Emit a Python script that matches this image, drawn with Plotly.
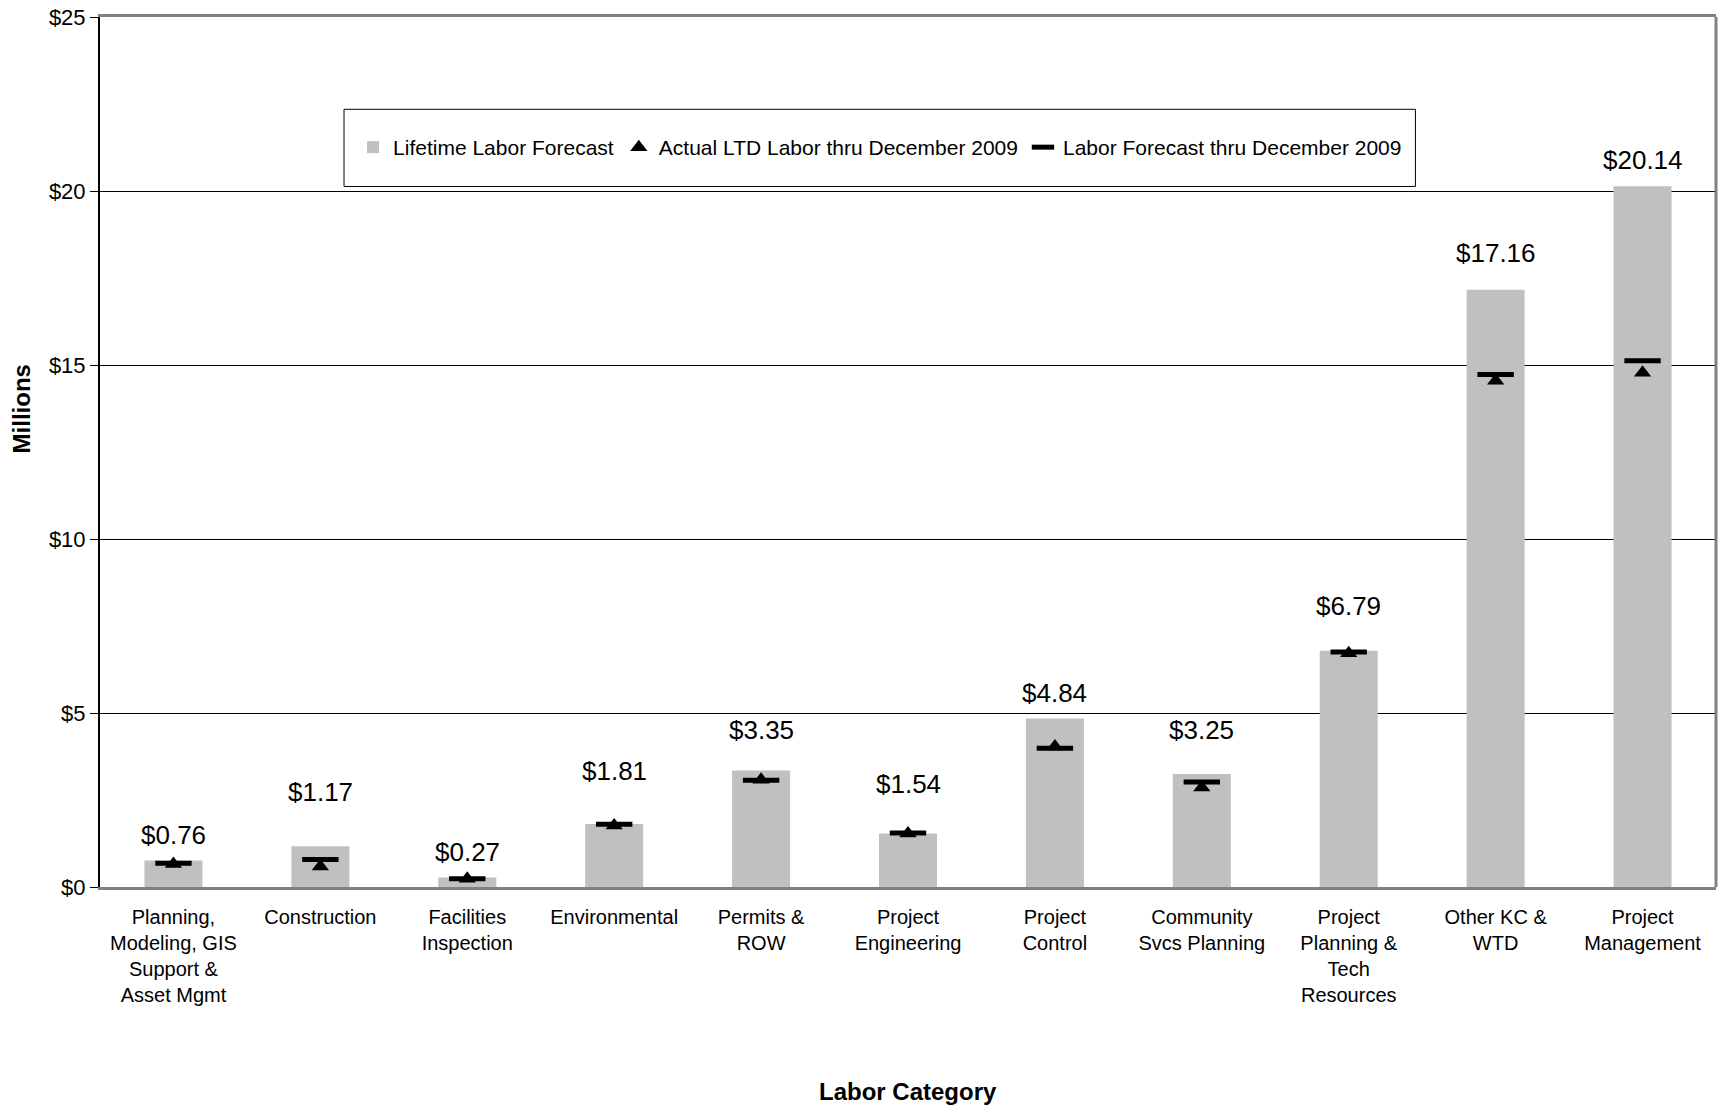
import plotly.graph_objects as go

# Labor categories (x axis) and values in $ millions
categories = [
    "Planning,<br>Modeling, GIS<br>Support &<br>Asset Mgmt",
    "Construction",
    "Facilities<br>Inspection",
    "Environmental",
    "Permits &<br>ROW",
    "Project<br>Engineering",
    "Project<br>Control",
    "Community<br>Svcs Planning",
    "Project<br>Planning &<br>Tech<br>Resources",
    "Other KC &<br>WTD",
    "Project<br>Management",
]
lifetime_forecast = [0.76, 1.17, 0.27, 1.81, 3.35, 1.54, 4.84, 3.25, 6.79, 17.16, 20.14]
actual_ltd = [0.66, 0.59, 0.24, 1.77, 3.08, 1.54, 4.04, 2.86, 6.72, 14.55, 14.78]
forecast_dec2009 = [0.68, 0.79, 0.24, 1.80, 3.07, 1.55, 3.99, 3.02, 6.75, 14.73, 15.12]

y_ticks = [0, 5, 10, 15, 20, 25]

# vertical offsets (px) of the value labels above each bar
label_offsets = [26, 54, 26, 53, 40, 49, 26, 44, 45, 37, 26]

FONT = "Liberation Sans, Arial, sans-serif"

fig = go.Figure()

fig.add_trace(go.Bar(
    x=categories, y=lifetime_forecast,
    name="Lifetime Labor Forecast",
    marker=dict(color="#C0C0C0", line=dict(width=0)),
))
fig.add_trace(go.Scatter(
    x=categories, y=actual_ltd, mode="markers",
    name="Actual LTD Labor thru December 2009",
    marker=dict(symbol="triangle-up", size=15, color="black"),
))
fig.add_trace(go.Scatter(
    x=categories, y=forecast_dec2009, mode="markers",
    name="Labor Forecast thru December 2009",
    marker=dict(symbol="line-ew", size=26, color="black",
                line=dict(color="black", width=5)),
))

# value labels above the bars
for cat, val, off in zip(categories, lifetime_forecast, label_offsets):
    fig.add_annotation(
        x=cat, y=val, text=f"${val:.2f}", showarrow=False,
        yanchor="middle", yshift=off,
        font=dict(family=FONT, size=26, color="black"),
    )

# axis titles
fig.add_annotation(
    xref="paper", yref="paper", x=0.5, y=-0.2345,
    text="<b>Labor Category</b>", showarrow=False,
    xanchor="center", yanchor="middle",
    font=dict(family=FONT, size=24, color="black"),
)
fig.add_annotation(
    xref="paper", yref="paper", x=-0.0483, y=0.55,
    text="<b>Millions</b>", showarrow=False, textangle=-90,
    xanchor="center", yanchor="middle",
    font=dict(family=FONT, size=24, color="black"),
)

# legend frame and right-hand plot border
fig.add_shape(type="rect", xref="paper", yref="paper",
              x0=0.151, x1=0.814, y0=0.8052, y1=0.8939,
              line=dict(color="black", width=1), fillcolor="white", layer="above")
fig.add_shape(type="line", xref="paper", yref="paper",
              x0=1, x1=1, y0=0, y1=1,
              line=dict(color="#808080", width=3))

fig.update_layout(
    width=1719, height=1106,
    margin=dict(l=100, r=3, t=17, b=219),
    paper_bgcolor="white", plot_bgcolor="white",
    font=dict(family=FONT, size=20, color="black"),
    bargap=0.605,
    showlegend=True,
    legend=dict(
        orientation="h", x=0.4827, y=0.85,
        xanchor="center", yanchor="middle",
        bgcolor="rgba(0,0,0,0)", borderwidth=0,
        font=dict(family=FONT, size=21, color="black"),
        itemwidth=30,
    ),
    xaxis=dict(
        range=[-0.5, len(categories) - 0.5],
        showline=True, linecolor="#808080", linewidth=3, mirror=True,
        ticks="", showgrid=False, ticklabelstandoff=10,
        tickfont=dict(family=FONT, size=20, color="black"),
    ),
    yaxis=dict(
        range=[0, 25], tickvals=y_ticks,
        ticktext=[f"${v}" for v in y_ticks],
        showline=True, linecolor="black", linewidth=2,
        ticks="outside", ticklen=8, tickcolor="black", tickwidth=1,
        showgrid=True, gridcolor="black", gridwidth=1,
        zeroline=False,
        tickfont=dict(family=FONT, size=22, color="black"),
    ),
)

fig.write_html("out.html")
